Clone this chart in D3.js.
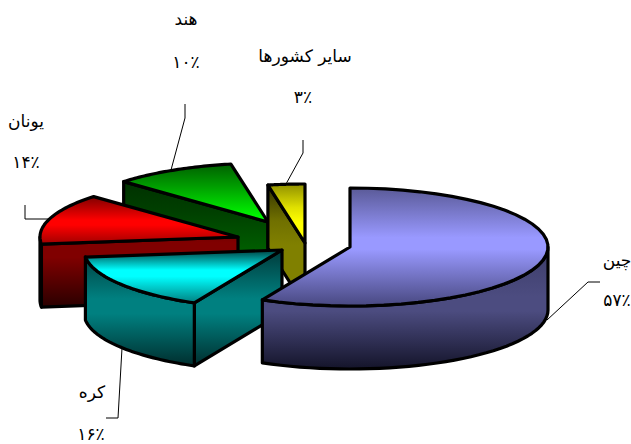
<!DOCTYPE html>
<html lang="fa"><head><meta charset="utf-8">
<script src="https://cdnjs.cloudflare.com/ajax/libs/d3/7.8.5/d3.min.js"></script>
<style>html,body{margin:0;padding:0;background:#fff}svg{display:block}</style></head>
<body><svg id="c" width="631" height="444"></svg>
<script>
const categories = ["چین","کره","یونان","هند","سایر کشورها"];
const values = [57.3,15.8,13.9,10,3];
const valueLabels = ["۵۷٪","۱۶٪","۱۴٪","۱۰٪","۳٪"];

const apexes = [[350,247],[282,250],[238,237],[268,222],[305,243]];
const RX = 198, RY = 59, DEPTH = 63;
const palettes = [
  {top:["#5a5a98","#9999ff","#9999ff","#484880"],tStops:[0,.42,.52,1],wall:["#2a2a4c","#4c4c80","#4c4c80","#14142a"],wStops:[0,.6,.68,1]},
  {top:["#004040","#00ffff","#00ffff","#008080"],tStops:[0,.38,.5,1],wall:["#003b3b","#008080","#008080","#002e2e"],wStops:[0,.42,.55,1]},
  {top:["#800000","#ff0000","#ff0000","#a00000"],tStops:[0,.5,.6,1],wall:["#3a0000","#800000","#800000","#2a0000"],wStops:[0,.42,.55,1]},
  {top:["#006000","#00a000","#00ff00","#00ff00"],tStops:[0,.4,.95,1],wall:["#002800","#004000","#006600","#006600"],wStops:[0,.4,.8,1]},
  {top:["#909000","#e0e000","#ffff00","#ffff00"],tStops:[0,.4,.65,1],wall:["#303000","#707000","#808000","#808000"],wStops:[0,.3,.5,1]}
];
const leaders = [
  [[547,320],[588,282],[600,282]],
  [[122,348],[118,418],[106,418]],
  [[48,219],[25,219],[25,205]],
  [[171,170],[185,118],[185,104]],
  [[286,184],[303,153],[303,140]]
];
const labelPos = [
  [[617,261],[617,301]],
  [[92,393],[91,435]],
  [[26,122],[26,163]],
  [[186,20],[186,63]],
  [[305,57],[303,98]]
];

const svg = d3.select("#c");
const defs = svg.append("defs");
const arcs = d3.pie().sort(null).startAngle(0).endAngle(2*Math.PI)(values);
const sx = d3.scaleLinear().domain([-1,1]).range([-RX,RX]);
const sy = d3.scaleLinear().domain([-1,1]).range([-RY,RY]);
const pt = (a,i,dy=0)=>[apexes[i][0]+sx(Math.sin(a)), apexes[i][1]+sy(-Math.cos(a))+dy];
const samples = (a0,a1)=>d3.range(0,41).map(k=>a0+(a1-a0)*k/40);
const line = d3.line();

function grad(id,colors,stops,y1,y2){
  const g = defs.append("linearGradient").attr("id",id)
    .attr("gradientUnits","userSpaceOnUse").attr("x1",0).attr("x2",0).attr("y1",y1).attr("y2",y2);
  colors.forEach((c,k)=>g.append("stop").attr("offset",stops[k]).attr("stop-color",c));
}
const drawOrder = [3,4,2,1,0];
drawOrder.forEach(i=>{
  const d = arcs[i], p = palettes[i], A = apexes[i], g = svg.append("g");
  const topPts = samples(d.startAngle,d.endAngle).map(a=>pt(a,i));
  const ys = topPts.map(q=>q[1]).concat(A[1]);
  const y0 = d3.min(ys), y1 = d3.max(ys);
  grad("t"+i,p.top,p.tStops,y0,y1);
  grad("w"+i,p.wall,p.wStops,y0,y1+DEPTH);
  const style = s=>s.attr("stroke","#000").attr("stroke-width",3.2).attr("stroke-linejoin","round");
  const wall = pts=>style(g.append("path").attr("d",line(pts)+"Z").attr("fill",`url(#w${i})`));
  const a0 = d.startAngle, a1 = d.endAngle;
  if (i>0) {
    const e = pt(a0,i);
    wall([A,e,[e[0],e[1]+DEPTH],[A[0],A[1]+DEPTH]]);
  }
  const lo = Math.max(a0,Math.PI/2), hi = Math.min(a1,3*Math.PI/2);
  if (hi>lo) {
    const f = samples(lo,hi).map(a=>pt(a,i));
    const b = samples(lo,hi).map(a=>pt(a,i,DEPTH)).reverse();
    wall(f.concat(b));
  }
  style(g.append("path").attr("d",line([A,...topPts])+"Z").attr("fill",`url(#t${i})`));
});

svg.append("g").selectAll("path").data(leaders).join("path")
  .attr("d",d=>line(d)).attr("fill","none").attr("stroke","#000").attr("stroke-width",1);

const txt = svg.append("g").attr("font-family","'DejaVu Sans'").attr("fill","#000")
  .attr("text-anchor","middle").attr("font-size",17);
categories.forEach((c,i)=>{
  txt.append("text").attr("x",labelPos[i][0][0]).attr("y",labelPos[i][0][1]).attr("dominant-baseline","middle").text(c);
  txt.append("text").attr("x",labelPos[i][1][0]).attr("y",labelPos[i][1][1]).attr("dominant-baseline","middle").text(valueLabels[i]);
});
</script></body></html>
